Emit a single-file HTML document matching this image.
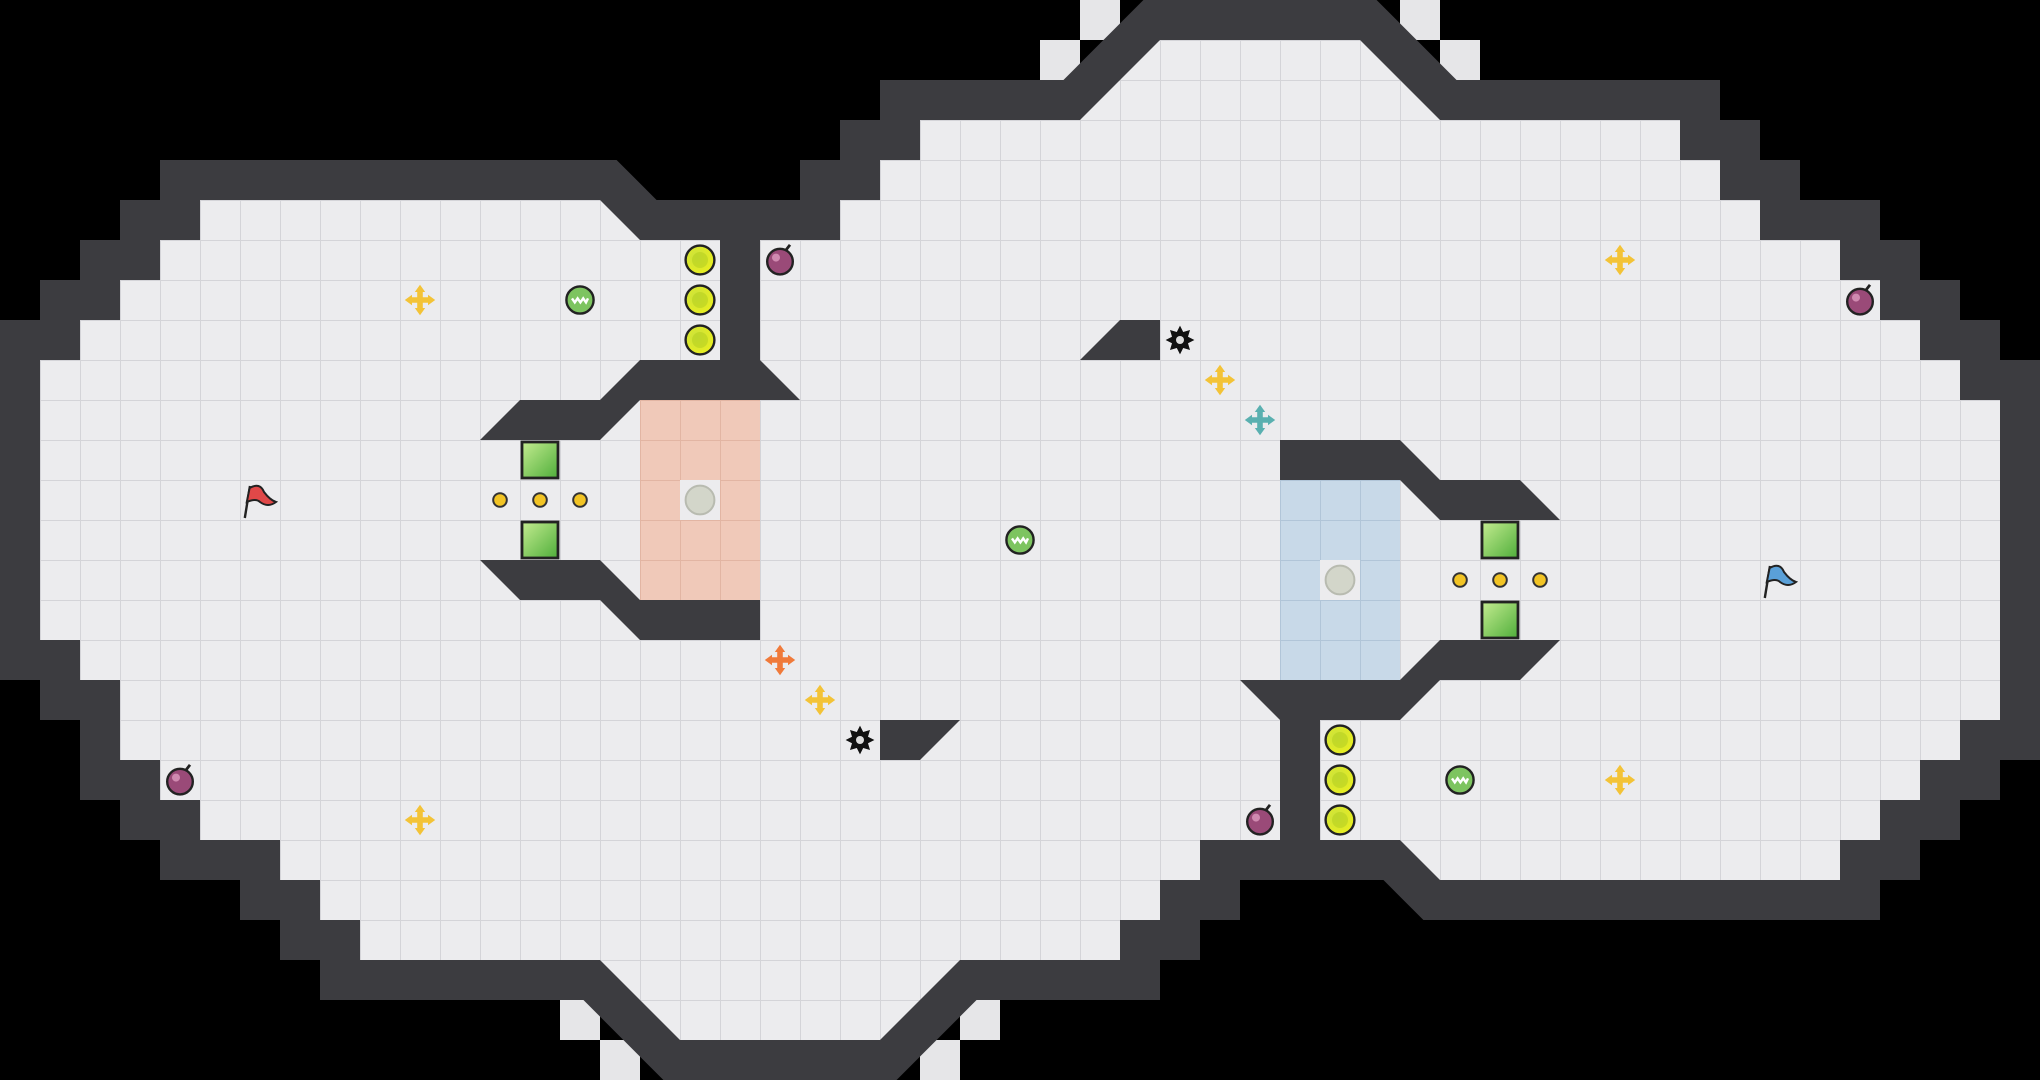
<!DOCTYPE html>
<html><head><meta charset="utf-8"><style>html,body{margin:0;padding:0;background:#000;}svg{display:block}</style></head>
<body>
<svg width="2040" height="1080" viewBox="0 0 51 27" xmlns="http://www.w3.org/2000/svg">
<defs>
<pattern id="g" patternUnits="userSpaceOnUse" width="1" height="1">
<rect width="1" height="1" fill="#ececee"/>
<path d="M0 0H1M0 0V1" stroke="#d4d4d8" stroke-width="0.05" fill="none"/>
</pattern>
<pattern id="gp" patternUnits="userSpaceOnUse" width="1" height="1">
<rect width="1" height="1" fill="#f0c9b9"/>
<path d="M0 0H1M0 0V1" stroke="#e2b5a3" stroke-width="0.05" fill="none"/>
</pattern>
<pattern id="gb" patternUnits="userSpaceOnUse" width="1" height="1">
<rect width="1" height="1" fill="#c8d9e8"/>
<path d="M0 0H1M0 0V1" stroke="#b1c5d8" stroke-width="0.05" fill="none"/>
</pattern>
<linearGradient id="gs" x1="0" y1="0" x2="1" y2="1"><stop offset="0" stop-color="#c4ec90"/><stop offset="1" stop-color="#4fae3a"/></linearGradient>
<radialGradient id="yc" cx="0.4" cy="0.4" r="0.6"><stop offset="0" stop-color="#c8e040"/><stop offset="1" stop-color="#e8ee20"/></radialGradient>
<g id="yel"><circle r="0.36" fill="url(#yc)" stroke="#222" stroke-width="0.06"/><circle r="0.2" fill="#b8d020" opacity="0.6"/></g>
<g id="bomb"><circle cx="0" cy="0.04" r="0.32" fill="#9a4a78" stroke="#222" stroke-width="0.06"/><circle cx="-0.1" cy="-0.06" r="0.1" fill="#d08ab0"/><path d="M0.15 -0.25 L0.25 -0.38" stroke="#222" stroke-width="0.07"/></g>
<g id="gstr"><circle r="0.34" fill="#7dc460" stroke="#222" stroke-width="0.06"/><path d="M-0.2 -0.04 L-0.13 0.06 L-0.06 -0.04 L0.01 0.06 L0.08 -0.04 L0.15 0.06 L0.2 -0.04" stroke="#fff" stroke-width="0.06" fill="none"/></g>
<g id="cross"><path d="M-0.07 -0.2H0.07V-0.07H0.2V0.07H0.07V0.2H-0.07V0.07H-0.2V-0.07H-0.07Z"/><path d="M0 -0.38L0.13 -0.2H-0.13Z M0 0.38L0.13 0.2H-0.13Z M-0.38 0L-0.2 0.13V-0.13Z M0.38 0L0.2 0.13V-0.13Z"/></g>
<g id="spk"><polygon fill="#111" points="0,-0.36 0.08,-0.2 0.25,-0.25 0.2,-0.08 0.36,0 0.2,0.08 0.25,0.25 0.08,0.2 0,0.36 -0.08,0.2 -0.25,0.25 -0.2,0.08 -0.36,0 -0.2,-0.08 -0.25,-0.25 -0.08,-0.2"/><circle r="0.1" fill="#ddd"/></g>
<g id="sq"><rect x="-0.45" y="-0.45" width="0.9" height="0.9" fill="url(#gs)" stroke="#222" stroke-width="0.07"/></g>
<g id="dot"><circle r="0.17" fill="#f2c424" stroke="#333" stroke-width="0.05"/></g>
</defs>
<rect width="51" height="27" fill="#000"/>
<g fill="#e6e6e8">
<rect x="27" y="0" width="1" height="1"/><rect x="26" y="1" width="1" height="1"/>
<rect x="35" y="0" width="1" height="1"/><rect x="36" y="1" width="1" height="1"/>
<rect x="14" y="25" width="1" height="1"/><rect x="15" y="26" width="1" height="1"/>
<rect x="24" y="25" width="1" height="1"/><rect x="23" y="26" width="1" height="1"/>
</g>
<polygon id="fl" points="5,5 15,5 16,6 21,6 21,5 22,5 22,4 23,4 23,3 27,3 29,1 34,1 36,3 42,3 42,4 43,4 43,5 44,5 44,6 46,6 46,7 47,7 47,8 48,8 48,9 49,9 49,10 50,10 50,18 49,18 49,19 48,19 48,20 47,20 47,21 46,21 46,22 36,22 35,21 30,21 30,22 29,22 29,23 28,23 28,24 24,24 22,26 17,26 15,24 9,24 9,23 8,23 8,22 7,22 7,21 5,21 5,20 4,20 4,19 3,19 3,17 2,17 2,16 1,16 1,9 2,9 2,8 3,8 3,7 4,7 4,6 5,6" fill="#3c3c40" stroke="#3c3c40" stroke-width="2" stroke-linejoin="miter" stroke-miterlimit="4"/>
<polygon points="5,5 15,5 16,6 21,6 21,5 22,5 22,4 23,4 23,3 27,3 29,1 34,1 36,3 42,3 42,4 43,4 43,5 44,5 44,6 46,6 46,7 47,7 47,8 48,8 48,9 49,9 49,10 50,10 50,18 49,18 49,19 48,19 48,20 47,20 47,21 46,21 46,22 36,22 35,21 30,21 30,22 29,22 29,23 28,23 28,24 24,24 22,26 17,26 15,24 9,24 9,23 8,23 8,22 7,22 7,21 5,21 5,20 4,20 4,19 3,19 3,17 2,17 2,16 1,16 1,9 2,9 2,8 3,8 3,7 4,7 4,6 5,6" fill="url(#g)"/>
<rect x="16" y="10" width="3" height="5" fill="url(#gp)"/>
<rect x="17" y="12" width="1" height="1" fill="#ececee"/>
<circle cx="17.5" cy="12.5" r="0.36" fill="#d3d6ca" stroke="#b8bbb0" stroke-width="0.05"/>
<rect x="32" y="12" width="3" height="5" fill="url(#gb)"/>
<rect x="33" y="14" width="1" height="1" fill="#ececee"/>
<circle cx="33.5" cy="14.5" r="0.36" fill="#d3d6ca" stroke="#b8bbb0" stroke-width="0.05"/>
<g fill="#3c3c40">
<rect x="18" y="5.5" width="1" height="4"/>
<rect x="32" y="17.5" width="1" height="4"/>
<polygon points="12,11 13,10 15,10 16,9 19,9 20,10 16,10 15,11"/>
<polygon points="12,14 15,14 16,15 19,15 19,16 16,16 15,15 13,15"/>
<polygon points="32,11 35,11 36,12 38,12 39,13 36,13 35,12 32,12"/>
<polygon points="39,16 36,16 35,17 31,17 32,18 35,18 36,17 38,17"/>
<polygon points="27,9 28,8 29,8 29,9"/>
<polygon points="22,18 24,18 23,19 22,19"/>
</g>
<use href="#yel" x="17.5" y="6.5"/><use href="#yel" x="17.5" y="7.5"/><use href="#yel" x="17.5" y="8.5"/>
<use href="#yel" x="33.5" y="18.5"/><use href="#yel" x="33.5" y="19.5"/><use href="#yel" x="33.5" y="20.5"/>
<use href="#bomb" x="19.5" y="6.5"/><use href="#bomb" x="4.5" y="19.5"/><use href="#bomb" x="31.5" y="20.5"/><use href="#bomb" x="46.5" y="7.5"/>
<use href="#gstr" x="14.5" y="7.5"/><use href="#gstr" x="25.5" y="13.5"/><use href="#gstr" x="36.5" y="19.5"/>
<g fill="#f3c337">
<use href="#cross" x="10.5" y="7.5"/><use href="#cross" x="30.5" y="9.5"/><use href="#cross" x="40.5" y="6.5"/>
<use href="#cross" x="20.5" y="17.5"/><use href="#cross" x="10.5" y="20.5"/><use href="#cross" x="40.5" y="19.5"/>
</g>
<use href="#cross" x="31.5" y="10.5" fill="#5ab0b0"/>
<use href="#cross" x="19.5" y="16.5" fill="#f07a3a"/>
<use href="#spk" x="29.5" y="8.5"/><use href="#spk" x="21.5" y="18.5"/>
<use href="#sq" x="13.5" y="11.5"/><use href="#sq" x="13.5" y="13.5"/>
<use href="#sq" x="37.5" y="13.5"/><use href="#sq" x="37.5" y="15.5"/>
<use href="#dot" x="12.5" y="12.5"/><use href="#dot" x="13.5" y="12.5"/><use href="#dot" x="14.5" y="12.5"/>
<use href="#dot" x="36.5" y="14.5"/><use href="#dot" x="37.5" y="14.5"/><use href="#dot" x="38.5" y="14.5"/>
<g transform="translate(6.5 12.5)"><path d="M-0.38 0.45 L-0.25 -0.35" stroke="#222" stroke-width="0.06"/><path d="M-0.26 -0.3 Q0 -0.45 0.1 -0.2 Q0.25 0 0.4 0.05 Q0.2 0.2 0 0.05 Q-0.1 -0.05 -0.33 0.05Z" fill="#e04848" stroke="#222" stroke-width="0.05"/></g>
<g transform="translate(44.5 14.5)"><path d="M-0.38 0.45 L-0.25 -0.35" stroke="#222" stroke-width="0.06"/><path d="M-0.26 -0.3 Q0 -0.45 0.1 -0.2 Q0.25 0 0.4 0.05 Q0.2 0.2 0 0.05 Q-0.1 -0.05 -0.33 0.05Z" fill="#5aa0d8" stroke="#222" stroke-width="0.05"/></g>
</svg>
</body></html>
